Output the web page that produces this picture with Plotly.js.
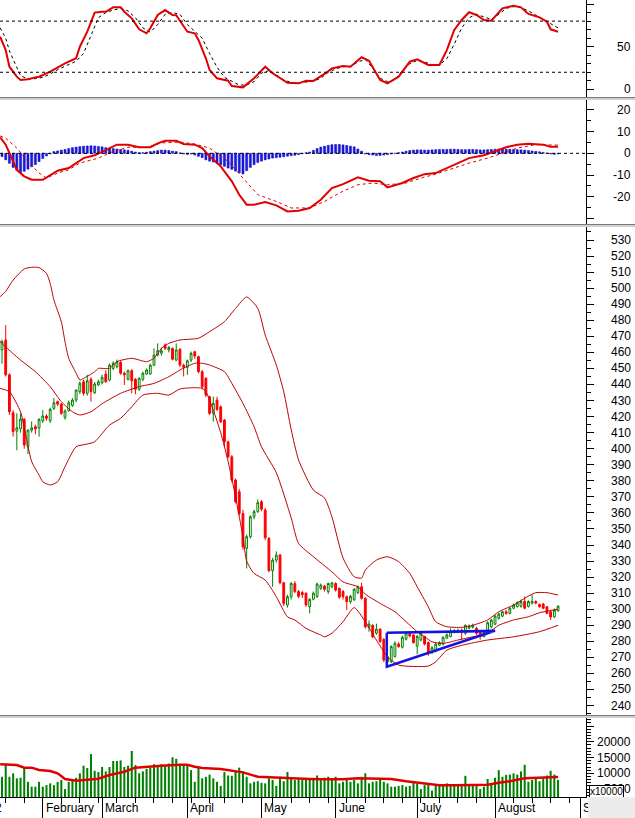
<!DOCTYPE html>
<html><head><meta charset="utf-8">
<script src="https://cdn.plot.ly/plotly-3.0.1.min.js"></script>
<style>html,body{margin:0;padding:0;background:#fff;}#wrap{position:relative;width:635px;height:818px;}#chart{width:635px;height:818px;}#corner{position:absolute;left:588px;top:797px;width:47px;height:21px;background:#ececec;}</style>
</head><body><div id="wrap"><div id="chart"></div><div id="corner"></div></div>
<script>
// ---------------- DATA ----------------
// trading-day index 0..150 (mid Jan 2022 .. late Aug 2022)
const open = [461.5,467.7,446,422.4,411,412.4,418.3,401.2,411.5,413.7,
412.9,417.4,420.3,417.4,425.1,429.3,427.8,419.5,423.7,427,
430.3,435.5,441.7,434.5,443.2,434.9,439.7,441.1,446.5,442.8,
450,451.1,453.8,447,443.2,448.6,443.2,437,443.2,446.5,
446.5,452,458.3,459.5,464.6,461.5,462.5,455.2,462,452,
450.7,455.2,460.4,457.3,448,443.9,432.4,422,430.3,426.1,
417.8,404.3,395,380.5,373.2,359.7,337.9,345.2,357.6,360.8,
367,361.8,344.1,324,330.6,333.7,316.5,302.6,307.8,316,
311,310.4,310,301.5,306.2,308,313,314.4,311,314,
316,313,311,307.8,304.7,306,310.3,314,306.8,288.8,
290,285.1,287.6,281.2,267.3,267.3,270.4,278.3,276.3,281.3,
285,284,277,280.8,283,279.2,272.9,274,277.6,278.3,
282,283,285.5,285.8,287,285,288.1,288.8,288.1,286,
283,285,289,290.7,294.3,295.7,298.4,297.4,300.6,301.7,
301.7,304.8,301.7,303.8,304.8,302.9,303.2,301.5,298.4,295.2,
299];
const high = [468,477,447,424,422,422,419,412,417,415,
419,424,421.5,425.5,431.6,430,428.5,424.5,430,431.5,
437,442,443,446,444.5,441.5,443,446,449,453,
454.5,455.5,454.5,448,449.5,449.5,444,444.5,448,450,
453,462.5,465.6,463,465.5,464,463,465.6,462.5,453,
455.5,460.5,461,458,449,444.5,433,432.4,432.4,427,
418.5,405,396,381.5,375,362,346.5,358.5,362,368.4,
368,363,345,332,336,334.5,317,309,317,317.5,
312,311.5,310.5,307,311,316.5,316,315,316.5,317,
316.8,313.5,312,308.5,309,313,314.8,316.5,307.5,293,
290.5,291,288,282,271,277.5,280,279.5,283.5,286,
286,284.5,284,286.5,283.5,280,277,279,280,283,
285,288,287.5,288,288,290.5,290.5,291,289,286.5,
286.5,292.5,294,296.5,297.8,299,299.5,301.5,303.5,305,
306,308,305.5,308.9,305.5,303.5,304,302,299,300.5,
302.5];
const low = [453,445,421,407.5,399,410,400,396.7,410,409,
407.5,416,417.5,416,424,426.5,421,418,423,426,
429,434,433,433,429.3,434,439,440,441,442,
449,450,446,439.7,442.5,434.5,434,436,442,446,
446,451.5,457.5,458,461.5,460,455,454.5,451,445,
446,454,456,447,437,432,421,416.8,423.5,416,
401,394,379,366,358.5,337,325.4,344,356,360,
361,343,323,314,329,315.5,302,301,306,310,
307,307,301.5,297.4,305.5,307,312,311,309.5,313,
311,306.5,306,299.5,303.5,305,309.5,306,288,286,
282,284,279,267,265.2,266.5,270,276,275.5,280.5,
282.5,278.5,272,280,277.5,271,272,273,277,277.5,
281.5,282.5,285,285,281,284,287.5,288,284,281,
282.5,284.5,288,290,293.5,295,296.5,296.8,300,301,
301,300,301,303,303,301,300,297,293.3,294.5,
298.5];
const close = [466.6,446,423,410.6,413,418.5,402.3,411.6,413,412.3,
418.3,420.3,418.9,424.5,428.6,427.8,422,423.5,428.6,430.3,
436.5,440.7,434.5,442.3,435.5,440.3,441.7,444.5,441.7,452.1,
453.2,454.2,447,446,448.6,442.3,437,443.8,447,449,
452,458.3,461,461,462.5,463,455.7,461.5,452.1,450.7,
454.8,459.4,457.7,448,438.6,433.4,422,428.3,424.5,416.8,
404.3,395,380.5,367,359.7,338.9,345.2,357.6,360.8,366.4,
362.3,344.5,324,330.6,333.7,316.5,303.6,307.8,316,311,
308,309,302.6,306.1,310,315.7,315,312.4,316,316.4,
311.9,307.5,307.8,304.7,308,312.5,314,306.8,289,290.7,
282.8,287.6,279.9,268.3,270.4,276.7,278.8,276.7,282.5,285,
283.3,279.2,283,285,278.3,272.6,276,278.3,279.2,282.5,
284,286,286.7,286.8,285.5,290,289.5,290,285,283,
285.5,291.6,293.3,295.7,297,298.4,297.4,300.6,302.6,304.1,
304.8,300.6,304.8,304.8,303.8,301.5,300.6,297.4,295.2,299.5,
301.9];
const volume = [8900,12950,8900,10000,8400,8600,11700,7300,5750,5750,
7300,5750,6250,6800,6250,7300,7900,5000,7300,7900,
8600,10000,12400,11700,16100,10800,10400,12000,10600,12000,
13900,13900,14100,12000,12400,17100,12600,10000,10600,11400,
11700,12900,12600,12900,12600,13100,15100,14600,12900,12600,
12400,11000,7300,11700,8400,8900,9600,8400,7300,6000,
10400,9300,9200,10400,11800,10600,8900,6800,7300,7500,
7000,6800,8400,7900,6000,8900,7500,10400,8400,7900,
8400,7900,7900,8200,7900,9300,8400,8600,8900,8200,
8900,6800,7300,7900,7300,7900,6800,8900,10000,6800,
7300,7500,7900,7300,6800,5750,5750,6000,6250,5750,
6000,7300,6800,5000,6250,6500,4500,6000,6250,6250,
6800,6250,6250,6000,6000,9200,6250,6250,6250,5000,
5750,8200,6800,8600,11000,8900,9500,9600,10000,9600,
10600,12700,7300,7900,8400,7500,8400,9300,10800,9600,
7900];
const macdHist = [-1.5,-3,-4.6,-6.5,-7.8,-8.8,-8.3,-7.3,-6.2,-5.2,
-3.8,-2.4,-1.2,-0.3,0.8,1.1,1.5,1.8,2.2,2.6,
2.9,3.1,3.3,3.4,3.5,3.4,3.2,3.0,2.6,2.4,
2.2,2.0,1.8,1.6,1.4,1.0,0.6,0.3,0.3,0.5,
0.8,1.0,1.3,1.5,1.5,1.3,1.0,0.8,0.2,-0.3,
-0.5,-0.3,-0.8,-1.4,-2,-3,-3.6,-4,-4.6,-5.3,
-6,-6.8,-7.4,-8.2,-9,-9.5,-8,-6.5,-5.2,-4.2,
-3.6,-3,-2.6,-2.2,-2,-1.8,-1.6,-1.3,-1.1,-0.9,
-0.6,-0.2,0.3,0.6,1.4,2.2,2.9,3.3,3.7,4,
4.1,4.1,3.9,3.6,3.3,3,2,1,-0.3,-0.6,
-0.8,-1,-1,-0.8,-0.6,-0.3,0,0.3,0.6,1.0,
1.3,1.5,1.6,1.6,1.5,1.5,1.6,1.7,1.8,1.8,
1.8,1.9,1.9,1.8,1.7,1.7,1.8,1.8,1.7,1.6,
1.6,1.7,1.8,1.9,2.0,2.0,1.9,1.9,1.8,1.7,
1.6,1.5,1.3,1.1,0.9,0.7,0.4,0.1,-0.3,-0.5,
-0.3];

// sampled indicator readings: [day index, value]
const bbUpper = [[-0.5,494.7],[1,498],[3,505],[6,512],[8,513],[10,512.8],[12,509.2],[13,503],[14,492.6],[16,479.1],[17,466.6],[18,456.3],[20,447],[21,442.8],[22,443.8],[25,447.9],[26,450],[29,450],[31,454.2],[35,456.3],[39,454.2],[41,456.3],[43,462.5],[45,465.6],[48,467.7],[53,468.8],[56,472.9],[60,479.1],[63,487.4],[66,494.5],[69,487.4],[71,470.8],[74,452.1],[76,435.5],[78,412],[80,393],[84,374.2],[87,369.3],[89,357.6],[92,331.9],[95,320.2],[97,319.4],[98,324.4],[101,330.6],[104,332.7],[107,329.6],[110,322.3],[112,314],[115,301.5],[117,292.2],[120,289.1],[124,288.7],[127,290],[131,293.3],[134,298.4],[138,302.6],[142,308.2],[144,310.3],[147,310.3],[150,308.8]];
const bbMiddle = [[-0.5,467],[0,465.6],[5,455.2],[9,448],[13,438.6],[16,429.3],[19,423],[21,421],[24,423],[27,428],[32,434.5],[37,438.6],[41,440.7],[45,444.8],[48,449],[52,453.2],[54,453.2],[56,452.1],[60,448],[62,440.7],[65,428.2],[68,413.7],[70,401.2],[74,385],[78,357],[80,341],[84,332.7],[89,323.3],[92,317],[96,314],[98,309.4],[102,303.6],[106,298.4],[109,292.2],[112,286],[114,282.8],[116,279.7],[119,278.7],[123,280.8],[127,282.8],[131,285],[134,290],[138,293.3],[142,295.3],[145,297.8],[150,300]];
const bbLower = [[-0.5,437.6],[2,435.5],[5,423],[6,413],[8,392],[10,383.5],[11,379.4],[13,377.4],[15,379.4],[17,388.8],[20,401.2],[23,402.9],[25,404.3],[29,414.7],[32,418.9],[35,426.1],[38,433.4],[42,434.5],[45,433.4],[48,437.2],[52,438],[54,437.6],[55,435.5],[57,424],[59,410],[61,392],[63,370],[65,345],[66,330],[68,322.3],[71,318.2],[74,307.8],[77,295.3],[79,293.3],[82,288.1],[86,283.9],[87,282.8],[89,285],[92,292.2],[95,301],[98,292.2],[101,280.8],[104,270.4],[107,265.2],[115,264.6],[117,267.3],[120,274.5],[124,277.5],[131,280.8],[138,282.8],[145,286],[150,290]];
const stochK = [[-0.5,61.7],[1,46],[2,26.5],[4,14.8],[5,10.9],[7,11.7],[9,14],[10,14.8],[13,20.7],[15,25.8],[17,30.5],[20,36.4],[21,50],[23,67.6],[25,90],[27,91],[28,91],[30,96.2],[32,96.2],[33,91],[35,83.3],[37,70.4],[39,65.7],[40,71.6],[42,87.2],[44,93],[46,87.2],[47,87],[50,67.6],[52,65.7],[53,57.9],[55,36.4],[56,22.7],[58,12.9],[61,10.1],[62,3.9],[65,2.3],[68,12.9],[71,26.5],[73,18.8],[75,12.9],[77,7.7],[80,7],[82,10.1],[84,9.8],[87,18],[89,24.6],[92,27.3],[94,26.5],[97,37.6],[99,33.6],[102,10.9],[104,7],[107,14.8],[110,32.4],[112,35.2],[115,28.5],[118,28.5],[120,46],[122,69.6],[124,81.3],[126,90.4],[128,87.2],[130,81.3],[132,80.5],[135,95],[138,98.1],[140,96.2],[142,88.4],[145,84.5],[147,79.3],[148,70.4],[150,67.6]];
const stochD = [[-0.5,72],[1,60],[2,45],[4,25],[5,16],[7,12],[9,12.5],[11,14],[13,18],[15,23],[18,28.5],[20,33],[22,42],[24,62],[26,84],[28,90],[30,93],[32,95],[34,92],[36,84],[38,72],[40,67],[42,76],[44,88],[46,90],[48,88],[50,76],[52,68],[54,60],[56,42],[58,26],[60,14],[62,9],[64,5],[66,5],[68,9],[70,19],[72,22],[74,17],[76,11],[78,8],[80,7.5],[82,8.5],[84,9.5],[86,13],[88,20],[90,24],[92,26.5],[94,27],[96,32],[98,35],[100,25],[102,13],[104,9],[106,11],[108,22],[110,30],[112,34],[114,32],[116,29],[118,28.5],[120,36],[122,53],[124,72],[126,84],[128,88],[130,85],[132,82],[134,88],[136,95],[138,97],[140,96],[142,92],[144,87],[146,83],[148,77],[150,72]];
const macdLine = [[-0.5,7.4],[1,4],[3,-3.7],[4,-7.6],[6,-10.6],[8,-12.2],[11,-12.2],[13,-10.2],[15,-8],[18,-6.8],[20,-4.5],[22,-2.2],[25,-0.9],[28,1.4],[31,4],[34,4],[37,2.8],[40,2.8],[42,4.6],[44,5.8],[47,5.8],[49,4.3],[52,4],[54,2.4],[56,-1.4],[59,-6],[62,-12.9],[64,-19.1],[66,-23.7],[68,-23.7],[71,-22.5],[74,-24],[77,-26.8],[80,-26.5],[83,-25.2],[86,-21.4],[89,-16],[92,-14.2],[96,-11.1],[99,-12.6],[102,-12.9],[104,-15.7],[108,-13.7],[111,-11.4],[114,-9.6],[117,-9.1],[120,-6.8],[123,-4.5],[126,-2.2],[130,-0.9],[133,0.9],[136,2.8],[139,4],[142,4.4],[146,4],[148,3],[150,3]];
const macdSignal = [[-0.5,8],[1,7],[4,2.4],[7,-3.7],[10,-9.1],[12,-11.4],[15,-9.1],[18,-7.6],[21,-4.5],[26,-2.2],[30,0.9],[34,2.8],[39,2.8],[43,4.8],[48,5.2],[52,4.3],[56,2.4],[61,-3.7],[65,-11.4],[69,-19.1],[74,-22.2],[78,-25.2],[83,-25.2],[87,-22.2],[91,-18.3],[96,-14.5],[100,-13.7],[104,-14.5],[109,-13.7],[113,-11.4],[117,-9.6],[122,-6.8],[126,-4.5],[131,-2.2],[135,0.1],[139,2.4],[144,4],[148,4],[150,3.8]];
const volumeMA = [[-0.5,12860],[4,12600],[6,11800],[8,11800],[10,11050],[13,10730],[15,10000],[17,8200],[20,7650],[22,7900],[26,8300],[29,9460],[33,10500],[36,11800],[39,12100],[43,12400],[48,12700],[50,12700],[52,12100],[54,11700],[59,11400],[62,10730],[65,10300],[69,8900],[74,8600],[78,8400],[83,8200],[87,8100],[92,8100],[96,8400],[100,8400],[105,8200],[109,7460],[113,7000],[118,6200],[122,6200],[126,6200],[131,6400],[134,7000],[137,7460],[141,8400],[145,8600],[150,8800]];
// hand-drawn triangle on the price panel: [day index, price]
const triangle = [[103.8,285.4],[103.8,264.2],[133,286.6],[103.8,285.4],[133,286.4]];

const monthNames = ["February","March","April","May","June","July","August","September"];
const monthStart = [11,27,50,70,90,112,133,156];
const weekStart = [1,6,16,21,26,31,36,41,46,51,56,60,65,73,78,83,88,93,98,103,108,113,118,123,128,138,143,148,153];
const stochLabels = [0,50];
const macdLabels = [-20,-10,0,10,20];
const priceLabels = [240,250,260,270,280,290,300,310,320,330,340,350,360,370,380,390,400,410,420,430,440,450,460,470,480,490,500,510,520,530];
const volLabels = [5000,10000,15000,20000];
const stochLevels = [20,80];

// ---------------- LAYOUT HELPERS ----------------
const W = 635, H = 818, MR = 49, MB = 21;
const plotW = W - MR, plotH = H - MB;
const py = p => (plotH - p) / plotH;
const px = p => p / plotW;
const days = open.map((_, i) => i);
const col = (arr, k) => arr.map(r => r[k]);
const FONT = {family: "Liberation Sans, Arial, sans-serif", size: 12, color: "#000"};
const RED = "#e00000", BAND = "#c00000";

const traces = [
  {type:'scatter', mode:'lines', x:col(stochD,0), y:col(stochD,1), yaxis:'y', line:{color:'#000', width:1, dash:'dot'}},
  {type:'scatter', mode:'lines', x:col(stochK,0), y:col(stochK,1), yaxis:'y', line:{color:RED, width:2}},
  {type:'bar', x:days, y:macdHist, yaxis:'y2', width:0.55, marker:{color:'#1a1ae6', line:{color:'#0000b4', width:0.5}}},
  {type:'scatter', mode:'lines', x:col(macdSignal,0), y:col(macdSignal,1), yaxis:'y2', line:{color:RED, width:1, dash:'dot'}},
  {type:'scatter', mode:'lines', x:col(macdLine,0), y:col(macdLine,1), yaxis:'y2', line:{color:RED, width:2}},
  {type:'scatter', mode:'lines', x:col(bbUpper,0), y:col(bbUpper,1), yaxis:'y3', line:{color:BAND, width:1, shape:'spline', smoothing:0.6}},
  {type:'scatter', mode:'lines', x:col(bbMiddle,0), y:col(bbMiddle,1), yaxis:'y3', line:{color:BAND, width:1, shape:'spline', smoothing:0.6}},
  {type:'scatter', mode:'lines', x:col(bbLower,0), y:col(bbLower,1), yaxis:'y3', line:{color:BAND, width:1, shape:'spline', smoothing:0.6}},
  {type:'candlestick', x:days, open:open, high:high, low:low, close:close, yaxis:'y3',
   increasing:{line:{color:'#008000', width:1}, fillcolor:'#ffffff'},
   decreasing:{line:{color:'#ff0000', width:1}, fillcolor:'#ff0000'}},
  {type:'scatter', mode:'lines', x:col(triangle,0), y:col(triangle,1), yaxis:'y3', line:{color:'#1414e0', width:2.5}},
  {type:'bar', x:days, y:volume, yaxis:'y4', width:0.55, marker:{color:'#008000'}},
  {type:'scatter', mode:'lines', x:col(volumeMA,0), y:col(volumeMA,1), yaxis:'y4', line:{color:RED, width:2.5}}
];

function yax(domain, range, major, minorD){
  return {domain:domain, range:range, side:'right', anchor:'x', showline:true, linecolor:'#000', linewidth:1,
    ticks:'outside', ticklen:7, tickcolor:'#000', tickmode:'array', tickvals:major, showticklabels:false,
    showgrid:false, zeroline:false, fixedrange:true,
    minor:{dtick:minorD, tick0:0, ticks:'outside', ticklen:4, tickcolor:'#000', showgrid:false}};
}
const range = (a, b, s) => { const r = []; for (let v = a; v <= b + 1e-9; v += s) r.push(v); return r; };

const annotations = [];
const lab = (yref, vals) => vals.forEach(v => annotations.push({xref:'paper', yref:yref, x:px(633), y:v, text:String(v),
  xanchor:'right', yanchor:'middle', showarrow:false, font:FONT}));
lab('y', stochLabels); lab('y2', macdLabels); lab('y3', priceLabels); lab('y4', volLabels);
monthNames.forEach((m, k) => annotations.push({xref:'x', yref:'paper', x:monthStart[k], y:py(808), text:m,
  xanchor:'left', yanchor:'middle', xshift:1, showarrow:false, font:FONT}));
annotations.push({xref:'paper', yref:'paper', x:px(4), y:py(808), text:'2022', xanchor:'right', yanchor:'middle', showarrow:false, font:FONT});

const shapes = [];
stochLevels.forEach(l => shapes.push({type:'line', xref:'paper', yref:'y', x0:0, x1:1, y0:l, y1:l, line:{color:'#000', width:1, dash:'3px,3px'}}));
shapes.push({type:'line', xref:'paper', yref:'y2', x0:0, x1:1, y0:0, y1:0, line:{color:'#000', width:1, dash:'3px,3px'}});
[97, 224, 715].forEach(s => {
  shapes.push({type:'rect', xref:'paper', yref:'paper', x0:0, x1:px(W), y0:py(s+3), y1:py(s), fillcolor:'#d0d0d0', line:{width:0}, layer:'above'});
  shapes.push({type:'line', xref:'paper', yref:'paper', x0:0, x1:px(W), y0:py(s+0.5), y1:py(s+0.5), line:{color:'#7a7a7a', width:1}, layer:'above'});
});
annotations.push({xref:'paper', yref:'paper', x:px(589), y:py(791), text:'x10000', xanchor:'left', yanchor:'middle', showarrow:false,
  bgcolor:'#fff', bordercolor:'#000', borderwidth:1, borderpad:0, font:{family:FONT.family, size:10, color:'#000'}});

const layout = {
  width:W, height:H, margin:{l:0, r:MR, t:0, b:MB, pad:0},
  paper_bgcolor:'#fff', plot_bgcolor:'#fff', showlegend:false, hovermode:false,
  boxgap:0.3,
  xaxis:{range:[-0.54, 157.54], anchor:'y4', showline:true, linecolor:'#000', linewidth:1,
    tickmode:'array', tickvals:monthStart, ticks:'outside', ticklen:20, tickcolor:'#000', showticklabels:false,
    showgrid:false, zeroline:false, rangeslider:{visible:false}, fixedrange:true,
    minor:{tickmode:'array', tickvals:weekStart, ticks:'outside', ticklen:5, tickcolor:'#000', showgrid:false}},
  yaxis: yax([py(97), 1], [-9.04, 104.8], [0, 50, 100], 10),
  yaxis2: yax([py(224), py(100)], [-32.6, 24.6], range(-30, 20, 10), 5),
  yaxis3: yax([py(715), py(227)], [234.1, 538.1], range(240, 530, 10), 5),
  yaxis4: yax([0, py(718)], [2476, 27556], range(5000, 25000, 5000), 1000),
  shapes:shapes, annotations:annotations, font:FONT
};
Plotly.newPlot('chart', traces, layout, {staticPlot:true, displayModeBar:false});
</script></body></html>
